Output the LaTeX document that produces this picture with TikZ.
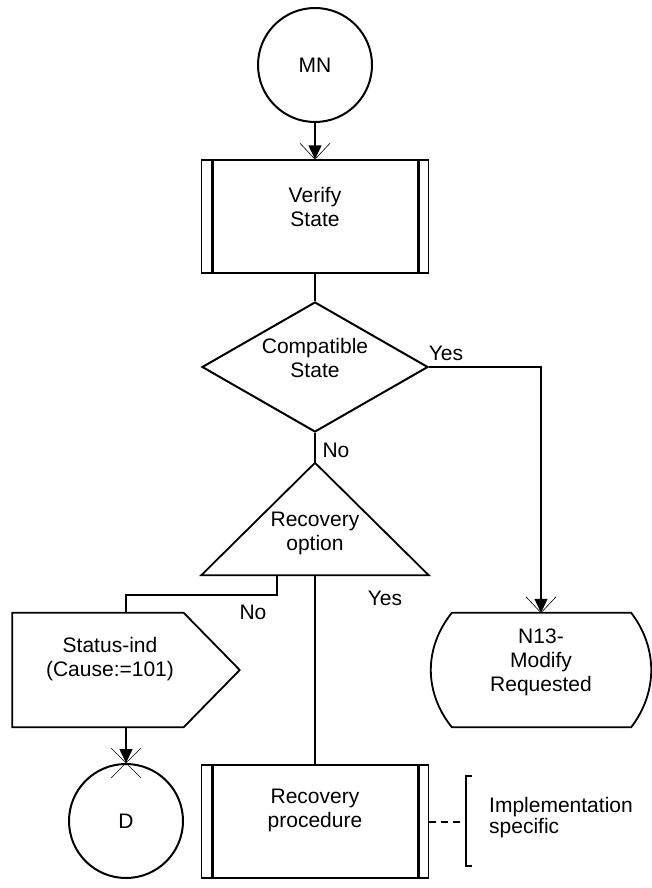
\documentclass[tikz,border=0pt]{standalone}
\usepackage{fontspec}
\setmainfont{Liberation Sans}
\usetikzlibrary{arrows.meta,calc,shapes.geometric}
\begin{document}
\begin{tikzpicture}[x=1pt,y=-1pt,
  every node/.style={font=\fontsize{21pt}{24pt}\selectfont, inner sep=0pt, align=center},
  circ/.style={circle, draw, line width=2pt, minimum size=114pt},
  procbox/.style={rectangle, draw, line width=1.5pt, minimum width=227pt, minimum height=113pt},
  area/.style={rectangle, draw=none},
  shapeline/.style={line width=1.8pt, line join=miter},
  conn/.style={line width=1.5pt},
  flow/.style={line width=1.5pt, -{Triangle[length=14pt,width=13pt]}},
  thinflow/.style={line width=1.1pt, -{Triangle[length=14pt,width=13pt]}},
  xmark/.style={line width=0.6pt},
  bar/.style={line width=3pt}
]
\useasboundingbox (0,0) rectangle (652,888);

% nodes
\node[circ] (mn) at (315,65) {MN};
\node[procbox, label={[yshift=10pt]center:{Verify\\State}}] (verify) at (315,216.5) {};
\node[diamond, draw, line width=2pt, minimum width=226pt, minimum height=130pt,
      label={[yshift=9pt]center:{Compatible\\State}}] (cmp) at (315,367) {};
\node[area, minimum width=227pt, minimum height=112pt,
      label={[yshift=-14.5pt]center:{Recovery\\option}}] (tri) at (315,519) {};
\node[area, minimum width=220pt, minimum height=114pt,
      label={[yshift=8pt]center:{N13-\\Modify\\Requested}}] (n13) at (541,670) {};
\node[area, minimum width=227pt, minimum height=114pt,
      label={[xshift=-16pt,yshift=11pt]center:{Status-ind\\(Cause:=101)}}] (st) at (126,670) {};
\node[circ] (d) at (126,821) {D};
\node[procbox, label={[yshift=11pt]center:{Recovery\\procedure}}] (rp) at (315,821.5) {};
\node[anchor=west, align=left, font=\fontsize{21pt}{21pt}\selectfont] (impl) at (489,817.5) {Implementation\\specific};

% labels
\node (yes1) at (446,353) {Yes};
\node (no1) at (336,450) {No};
\node (no2) at (253,612) {No};
\node (yes2) at (385,598) {Yes};

% shape outlines
\draw[bar] ([xshift=12pt]verify.north west) -- ([xshift=12pt]verify.south west);
\draw[bar] ([xshift=-11pt]verify.north east) -- ([xshift=-11pt]verify.south east);
\draw[bar] ([xshift=12pt]rp.north west) -- ([xshift=12pt]rp.south west);
\draw[bar] ([xshift=-11pt]rp.north east) -- ([xshift=-11pt]rp.south east);
\draw[shapeline] (tri.north) -- (tri.south east) -- (tri.south west) -- cycle;
\draw[shapeline] ($(n13.north west)+(21,0)$) -- ($(n13.north east)+(-20,0)$)
  .. controls ($(n13.north east)+(6.7,35)$) and ($(n13.south east)+(6.7,-35)$) .. ($(n13.south east)+(-20,0)$)
  -- ($(n13.south west)+(21,0)$)
  .. controls ($(n13.south west)+(-7,-35)$) and ($(n13.north west)+(-7,35)$) .. cycle;
\draw[shapeline] (st.north west) -- ($(st.north east)+(-56,0)$) -- (st.east)
  -- ($(st.south east)+(-56,0)$) -- (st.south west) -- cycle;

% connectors
\draw[flow] (mn.south) -- (verify.north);
\draw[xmark] ($(verify.north)+(-15,-16)$) -- (verify.north) -- ($(verify.north)+(15,-16)$);
\draw[conn] (verify.south) -- (cmp.north);
\draw[thinflow] (cmp.east) -| (n13.north);
\draw[xmark] ($(n13.north)+(-15,-16)$) -- (n13.north) -- ($(n13.north)+(15,-16)$);
\draw[conn] (cmp.south) -- (tri.north);
\coordinate (trib) at ($(tri.south)+(-38,0)$);
\draw[conn] (trib) -- ++(0,20) -| (st.north);
\draw[conn] (tri.south) -- (rp.north);
\draw[flow] (st.south) -- (d.north);
\draw[xmark] ($(d.north)+(-15,-15)$) -- ($(d.north)+(15,15)$);
\draw[xmark] ($(d.north)+(15,-15)$) -- ($(d.north)+(-15,15)$);
\coordinate (brk) at (466,821.5);
\draw[line width=2pt, dash pattern=on 7pt off 5pt] (rp.east) -- (brk);
\draw[line width=2pt] (472,776) -- (466,776) -- (466,866) -- (472,866);
\end{tikzpicture}
\end{document}
